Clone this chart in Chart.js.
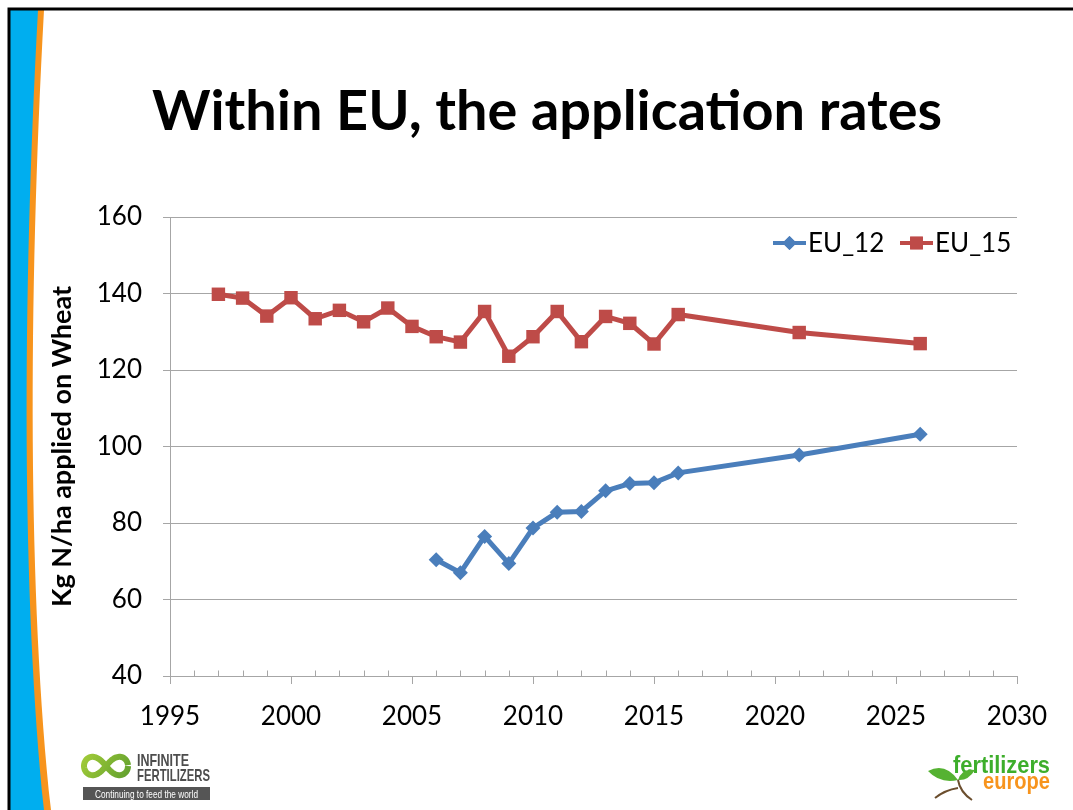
<!DOCTYPE html>
<html>
<head>
<meta charset="utf-8">
<script src="https://cdn.jsdelivr.net/npm/chart.js@4/dist/chart.umd.min.js"></script>
<style>
html,body{margin:0;padding:0;background:#fff;overflow:hidden;}
canvas{display:block;}
</style>
</head>
<body>
<canvas id="c" width="1073" height="810"></canvas>
<script>
// ---- data ----
const titleText = "Within EU, the application rates";
const yAxisTitle = "Kg N/ha applied on Wheat";
const seriesNames = ["EU_12", "EU_15"];
const eu12Years = [2006, 2007, 2008, 2009, 2010, 2011, 2012, 2013, 2014, 2015, 2016, 2021, 2026];
const eu12Values = [70.4, 67.0, 76.5, 69.4, 78.7, 82.8, 83.0, 88.4, 90.3, 90.5, 93.1, 97.8, 103.2];
const eu15Years = [1997, 1998, 1999, 2000, 2001, 2002, 2003, 2004, 2005, 2006, 2007, 2008, 2009, 2010, 2011, 2012, 2013, 2014, 2015, 2016, 2021, 2026];
const eu15Values = [139.8, 138.8, 134.1, 138.9, 133.4, 135.6, 132.6, 136.2, 131.4, 128.7, 127.3, 135.3, 123.6, 128.7, 135.3, 127.4, 134.0, 132.2, 126.8, 134.5, 129.8, 126.9];
const xMin = 1995, xMax = 2030, xStep = 5;
const yMin = 40, yMax = 160, yStep = 20;

const BLUE = '#4A7EBB', RED = '#BE4B48', GRID = '#A6A6A6';
const FONT = 'Lato, "Open Sans", sans-serif';
const NARROW = '"Liberation Sans Narrow", "Liberation Sans", sans-serif';

const toPts = (xs, ys) => xs.map((x, i) => ({x: x, y: ys[i]}));

const slidePlugin = {
  id: 'slide',
  beforeDraw(chart) {
    const ctx = chart.ctx;
    ctx.save();
    ctx.fillStyle = '#fff';
    ctx.fillRect(0, 0, chart.width, chart.height);
    // left stripes
    ctx.fillStyle = '#F7941D';
    ctx.beginPath();
    ctx.moveTo(10, 10);
    ctx.lineTo(44, 10);
    ctx.bezierCurveTo(28, 300, 28, 600, 51, 810);
    ctx.lineTo(10, 810);
    ctx.closePath();
    ctx.fill();
    ctx.fillStyle = '#00AEEF';
    ctx.beginPath();
    ctx.moveTo(10, 10);
    ctx.lineTo(38, 10);
    ctx.bezierCurveTo(22, 300, 22, 600, 44, 810);
    ctx.lineTo(10, 810);
    ctx.closePath();
    ctx.fill();
    // black border
    ctx.strokeStyle = '#000';
    ctx.lineWidth = 3;
    ctx.beginPath();
    ctx.moveTo(9, 812);
    ctx.lineTo(9, 9);
    ctx.lineTo(1075, 9);
    ctx.stroke();
    // title
    ctx.fillStyle = '#000';
    ctx.font = 'bold 56px ' + FONT;
    ctx.textAlign = 'center';
    ctx.textBaseline = 'alphabetic';
    ctx.fillText(titleText, 547, 130, 790);

    // Infinite Fertilizers logo
    const g = ctx.createLinearGradient(82, 750, 130, 780);
    g.addColorStop(0, '#A6CE39');
    g.addColorStop(1, '#5E9E2E');
    ctx.strokeStyle = g;
    ctx.lineWidth = 6;
    ctx.beginPath();
    for (let t = 0; t <= Math.PI * 2 + 0.01; t += 0.05) {
      const d = 1 + Math.sin(t) * Math.sin(t);
      const px = 106 + 22 * Math.cos(t) / d;
      const py = 766 + 26 * Math.sin(t) * Math.cos(t) / d;
      if (t === 0) ctx.moveTo(px, py); else ctx.lineTo(px, py);
    }
    ctx.stroke();
    ctx.fillStyle = '#4D4D4D';
    ctx.textAlign = 'left';
    ctx.font = 'bold 17px ' + NARROW;
    ctx.fillText('INFINITE', 137, 766, 52);
    ctx.fillText('FERTILIZERS', 137, 781, 73);
    ctx.fillStyle = '#555555';
    ctx.fillRect(83, 787, 127, 13);
    ctx.fillStyle = '#fff';
    ctx.font = '11px ' + NARROW;
    ctx.fillText('Continuing to feed the world', 95, 797.5, 103);

    // Fertilizers Europe logo
    ctx.fillStyle = '#3DAE2B';
    ctx.font = 'bold 24px "Liberation Sans", Arial, sans-serif';
    ctx.fillText('fertilizers', 953, 773, 97);
    ctx.fillStyle = '#F7941D';
    ctx.fillText('europe', 983, 789, 67);
    // leaf
    ctx.fillStyle = '#55B232';
    ctx.beginPath();
    ctx.moveTo(928, 771);
    ctx.quadraticCurveTo(945, 762, 958, 780);
    ctx.quadraticCurveTo(940, 784, 928, 771);
    ctx.fill();
    ctx.beginPath();
    ctx.moveTo(958, 780);
    ctx.quadraticCurveTo(962, 768, 975, 770);
    ctx.quadraticCurveTo(968, 781, 958, 780);
    ctx.fill();
    ctx.strokeStyle = '#6B4E2E';
    ctx.lineWidth = 2;
    ctx.beginPath();
    ctx.moveTo(958, 780);
    ctx.quadraticCurveTo(960, 792, 972, 800);
    ctx.moveTo(958, 788);
    ctx.quadraticCurveTo(945, 790, 935, 798);
    ctx.stroke();
    ctx.restore();
  },
  afterDraw(chart) {
    const ctx = chart.ctx;
    const xs = chart.scales.x, ys = chart.scales.y;
    ctx.save();
    // minor ticks (inside, every year)
    ctx.strokeStyle = GRID;
    ctx.lineWidth = 1;
    const yb = Math.round(ys.getPixelForValue(yMin)) + 0.5;
    ctx.beginPath();
    for (let yr = xMin + 1; yr < xMax; yr++) {
      if (yr % xStep === 0) continue;
      const px = Math.round(xs.getPixelForValue(yr)) + 0.5;
      ctx.moveTo(px, yb);
      ctx.lineTo(px, yb - 6);
    }
    ctx.stroke();
    // legend
    const items = [
      {x: 773, color: BLUE, style: 'rectRot', r: 7, text: seriesNames[0]},
      {x: 900, color: RED, style: 'rect', r: 9, text: seriesNames[1]}
    ];
    const ly = 243;
    ctx.font = '26px ' + FONT;
    ctx.textBaseline = 'middle';
    ctx.textAlign = 'left';
    items.forEach(it => {
      ctx.strokeStyle = it.color;
      ctx.lineWidth = 4;
      ctx.beginPath();
      ctx.moveTo(it.x, ly);
      ctx.lineTo(it.x + 33, ly);
      ctx.stroke();
      ctx.fillStyle = it.color;
      Chart.helpers.drawPoint(ctx, {pointStyle: it.style, radius: it.r, rotation: 0, borderWidth: 0}, it.x + 16.5, ly);
      ctx.fill();
      ctx.fillStyle = '#000';
      ctx.fillText(it.text, it.x + 35, ly + 1);
    });
    ctx.restore();
  }
};

new Chart(document.getElementById('c'), {
  type: 'line',
  data: {
    datasets: [
      {
        label: seriesNames[0],
        data: toPts(eu12Years, eu12Values),
        borderColor: BLUE,
        backgroundColor: BLUE,
        borderWidth: 5,
        pointStyle: 'rectRot',
        pointRadius: 7.5,
        pointBorderWidth: 0,
        tension: 0
      },
      {
        label: seriesNames[1],
        data: toPts(eu15Years, eu15Values),
        borderColor: RED,
        backgroundColor: RED,
        borderWidth: 5,
        pointStyle: 'rect',
        pointRadius: 9.5,
        pointBorderWidth: 0,
        tension: 0
      }
    ]
  },
  options: {
    responsive: false,
    animation: false,
    devicePixelRatio: 1,
    layout: {padding: {left: 0, top: 217, right: 56, bottom: 0}},
    plugins: {legend: {display: false}, tooltip: {enabled: false}, title: {display: false}},
    scales: {
      x: {
        type: 'linear',
        min: xMin, max: xMax,
        ticks: {
          stepSize: 1,
          autoSkip: false,
          maxRotation: 0,
          color: '#000',
          font: {family: FONT, size: 26},
          padding: 17,
          callback: v => (v % xStep === 0 ? String(v) : '')
        },
        grid: {
          drawOnChartArea: false,
          drawTicks: true,
          tickLength: 8,
          color: c => (c.tick && c.tick.value % xStep === 0 ? GRID : 'rgba(0,0,0,0)')
        },
        border: {color: GRID, width: 1},
        afterFit: s => { s.height = 810 - 676; }
      },
      y: {
        min: yMin, max: yMax,
        ticks: {
          stepSize: yStep,
          color: '#000',
          font: {family: FONT, size: 26},
          padding: 21
        },
        grid: {color: GRID, tickLength: 7, lineWidth: 1},
        border: {color: GRID, width: 1},
        title: {
          display: true,
          text: yAxisTitle,
          color: '#000',
          font: {family: FONT, size: 27, weight: 'bold'},
          padding: {top: 46, bottom: 0}
        },
        afterFit: s => { s.width = 170; }
      }
    }
  },
  plugins: [slidePlugin]
});
</script>
</body>
</html>
